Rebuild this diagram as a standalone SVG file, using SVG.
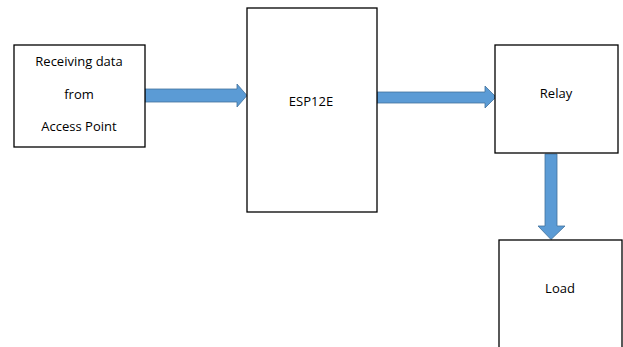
<svg xmlns="http://www.w3.org/2000/svg" width="623" height="347" viewBox="0 0 623 347">
<style>
.box{fill:#fff;stroke:#000;stroke-width:1.3}
.arr{fill:#5B9BD5;stroke:#41719C;stroke-width:0.8}
.t{font-family:"Open Sans","Liberation Sans",Arial,sans-serif;font-size:13px;fill:#000;text-anchor:middle}
</style>
<rect width="623" height="347" fill="#fff"/>
<g id="connectors">
<polygon class="arr" points="145,89 237,89 237,84 247,95.5 237,107 237,102 145,102"/>
<polygon class="arr" points="377,92 485,92 485,86 496,97 485,108 485,103 377,103"/>
<polygon class="arr" points="545,154 557,154 557,226 565,226 551,239.5 538,226 545,226"/>
</g>
<g id="node-receiving">
<rect class="box" x="14" y="45" width="131" height="102"/>
<text class="t" x="79" y="66">Receiving data</text>
<text class="t" x="79" y="99">from</text>
<text class="t" x="79" y="131">Access Point</text>
</g>
<g id="node-esp">
<rect class="box" x="247" y="8" width="130" height="204"/>
<text class="t" x="311" y="106">ESP12E</text>
</g>
<g id="node-relay">
<rect class="box" x="495" y="45" width="123" height="108"/>
<text class="t" x="556" y="98">Relay</text>
</g>
<g id="node-load">
<rect class="box" x="499" y="240" width="123" height="120"/>
<text class="t" x="560" y="293">Load</text>
</g>
</svg>
